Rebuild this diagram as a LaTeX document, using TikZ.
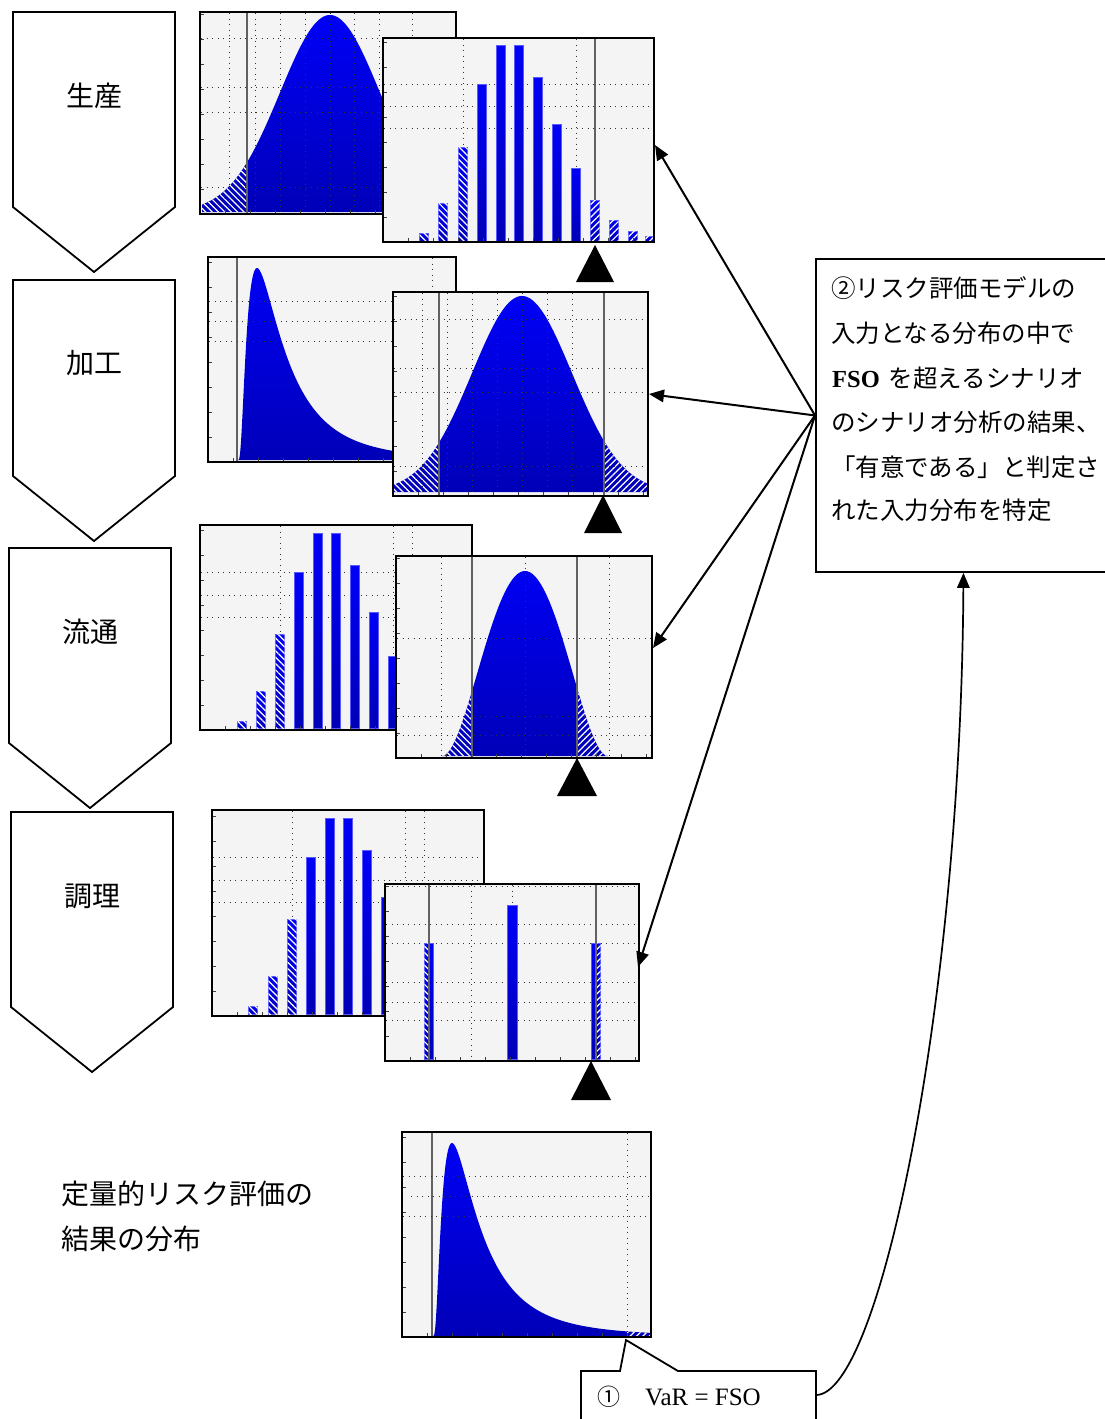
\documentclass[tikz,border=0pt]{standalone}
\usepackage{fontspec}
\newfontfamily\jp{Noto Sans CJK JP}
\newfontfamily\lat{Liberation Serif}
\usetikzlibrary{arrows.meta,patterns.meta}
\definecolor{bgc}{HTML}{F4F4F4}
\definecolor{bluetop}{rgb}{0,0,0.97}
\definecolor{bluebot}{rgb}{0,0,0.72}
\definecolor{baredgec}{rgb}{0.35,0.35,1}
\definecolor{thr}{gray}{0.38}
\tikzset{
  chartbg/.style={fill=bgc},
  chartframe/.style={draw=black,line width=2.2pt},
  griddot/.style={line width=1pt,dash pattern=on 1pt off 4.5pt,black!80},
  thrline/.style={line width=1.1pt,thr},
  tickmark/.style={line width=0.8pt,black!75},
  curvefill/.style={top color=bluetop,bottom color=bluebot},
  baredge/.style={draw=baredgec,line width=0.6pt},
  hatchL/.style={pattern={Lines[angle=-45,distance=4.5pt,line width=1.2pt]},pattern color=white},
  hatchR/.style={pattern={Lines[angle=45,distance=4.5pt,line width=1.2pt]},pattern color=white},
  marker/.style={fill=black},
  stage/.style={draw=black,line width=1.8pt,fill=white},
  lbl/.style={font=\jp\fontsize{28}{28}\selectfont,inner sep=0pt},
  boxtxt/.style={font=\jp\fontsize{24.5}{24.5}\selectfont,inner sep=0pt,anchor=west},
  boxline/.style={draw=black,line width=1.9pt},
  arr/.style={line width=2pt,-{Triangle[length=15pt,width=12.5pt]}},
}
\newcommand{\cbg}[4]{\fill[chartbg] (#1,#2) rectangle (#3,#4);}
\newcommand{\cfr}[4]{\draw[chartframe] (#1,#2) rectangle (#3,#4);}
\newcommand{\cticks}[4]{\begin{scope}\clip (#1,#2) rectangle (#3,#4);
  \foreach \k in {1,...,10}{\draw[tickmark] (#1,{#4-\k*25}) -- ++(4,0);
  \draw[tickmark] ({#1+\k*25},#4) -- ++(0,-4);}\end{scope}}
\newcommand{\cbar}[4]{\shadedraw[curvefill,baredge] ({#1-#4},#2) rectangle ({#1+#4},#3);}
\newcommand{\cbarh}[5]{\shadedraw[curvefill,baredge] ({#1-#4},#2) rectangle ({#1+#4},#3);
  \fill[#5] ({#1-#4},#2) rectangle ({#1+#4},#3);}
\begin{document}
\begin{tikzpicture}[x=1pt,y=-1pt,
  declare function={nrm(\a,\m,\s)=exp(-0.5*((\a-\m)/\s)*((\a-\m)/\s));
                    bmp(\a,\m,\w)=(1-((\a-\m)/\w)*((\a-\m)/\w))*(1-((\a-\m)/\w)*((\a-\m)/\w));
                    lgn(\u)=(19/\u)*exp(0.361-(ln(\u)-3.667)*(ln(\u)-3.667)/1.445);}]
\fill[white] (0,0) rectangle (1104,1419);
\useasboundingbox (0,0) rectangle (1104,1419);

% ---------- stage arrows ----------
\draw[stage] (13,12) -- (175,12) -- (175,207) -- (94,272) -- (13,207) -- cycle;
\draw[stage] (13,280) -- (175,280) -- (175,476) -- (94,541) -- (13,476) -- cycle;
\draw[stage] (9,548) -- (171,548) -- (171,743) -- (90,808) -- (9,743) -- cycle;
\draw[stage] (11,812) -- (173,812) -- (173,1007) -- (92,1072) -- (11,1007) -- cycle;
\node[lbl] (s1) at (94,96) {生産};
\node[lbl] (s2) at (94,363) {加工};
\node[lbl] (s3) at (90,632) {流通};
\node[lbl] (s4) at (92,896) {調理};

% ---------- row 1 back (normal) ----------
\cbg{200}{12}{456}{214}
\begin{scope}
  \clip plot[domain=202:456,samples=120] (\x,{212-197*nrm(\x,330,50)}) -- (456,212) -- (202,212) -- cycle;
  \shade[curvefill] (200,14) rectangle (456,212);
  \fill[hatchL] (200,14) rectangle (247,212);
\end{scope}
\foreach \gx in {229,255,280,305,330,354,379,412} {\draw[griddot] (\gx,13) -- (\gx,213);}
\foreach \gy in {38,87,112,187} {\draw[griddot] (201,\gy) -- (455,\gy);}
\draw[thrline] (247,13) -- (247,213);
\cticks{200}{12}{456}{214}
\cfr{200}{12}{456}{214}

% ---------- row 1 front (bars) ----------
\cbg{383}{38}{654}{242}
\foreach \gx in {463,576} {\draw[griddot] (\gx,39) -- (\gx,241);}
\foreach \gy in {84,106,128} {\draw[griddot] (384,\gy) -- (653,\gy);}
\draw[thrline] (595,39) -- (595,241);
\foreach \bx/\bt in {424/233,443/203,463/147} {\cbarh{\bx}{\bt}{241}{4.5}{hatchL}}
\foreach \bx/\bt in {482/84,501/45,519/45,538/77,557/124,576/168} {\cbar{\bx}{\bt}{241}{4.5}}
\foreach \bx/\bt in {595/200,614/220,633/231,650/236} {\cbarh{\bx}{\bt}{241}{4.5}{hatchR}}
\cticks{383}{38}{654}{242}
\cfr{383}{38}{654}{242}
\fill[marker] (595,245) -- (614,282) -- (576,282) -- cycle;

% ---------- row 2 back (lognormal) ----------
\cbg{208}{257}{456}{462}
\begin{scope}
  \clip plot[domain=238.3:456,samples=250] (\x,{460-192*lgn(\x-238)}) -- (456,460) -- (238.3,460) -- cycle;
  \shade[curvefill] (208,259) rectangle (456,461);
\end{scope}
\draw[thrline] (237,258) -- (237,461);
\draw[griddot] (432,258) -- (432,461);
\foreach \gy in {301,321,341} {\draw[griddot] (209,\gy) -- (455,\gy);}
\cticks{208}{257}{456}{462}
\cfr{208}{257}{456}{462}

% ---------- row 2 front (normal) ----------
\cbg{393}{292}{648}{496}
\begin{scope}
  \clip plot[domain=394:647,samples=120] (\x,{492-196*nrm(\x,522,50)}) -- (647,492) -- (394,492) -- cycle;
  \shade[curvefill] (393,294) rectangle (648,492);
  \fill[hatchL] (393,294) rectangle (439,492);
  \fill[hatchR] (604,294) rectangle (648,492);
\end{scope}
\foreach \gx in {422,447,472,497,522,547,572} {\draw[griddot] (\gx,293) -- (\gx,495);}
\foreach \gy in {319,368,392,466} {\draw[griddot] (394,\gy) -- (647,\gy);}
\draw[thrline] (439,293) -- (439,495);
\draw[thrline] (604,293) -- (604,495);
\cticks{393}{292}{648}{496}
\cfr{393}{292}{648}{496}
\fill[marker] (603,495) -- (622,533) -- (584,533) -- cycle;

% ---------- row 3 back (bars) ----------
\cbg{200}{525}{472}{730}
\foreach \gx in {280,393,412} {\draw[griddot] (\gx,526) -- (\gx,729);}
\foreach \gy in {572,595,617} {\draw[griddot] (201,\gy) -- (471,\gy);}
\foreach \bx/\bt in {242/721,261/691,280/634} {\cbarh{\bx}{\bt}{728}{4.5}{hatchL}}
\foreach \bx/\bt in {299/572,318/533,336/533,355/565,374/612,393/656} {\cbar{\bx}{\bt}{728}{4.5}}
\cticks{200}{525}{472}{730}
\cfr{200}{525}{472}{730}

% ---------- row 3 front (narrow bump) ----------
\cbg{396}{556}{652}{758}
\begin{scope}
  \clip plot[domain=442:608,samples=120] (\x,{756-185*bmp(\x,525,83)}) -- cycle;
  \shade[curvefill] (396,558) rectangle (652,757);
  \fill[hatchL] (396,558) rectangle (472,757);
  \fill[hatchR] (577,558) rectangle (652,757);
\end{scope}
\foreach \gx in {441,525,609} {\draw[griddot] (\gx,557) -- (\gx,757);}
\foreach \gy in {638,716,735} {\draw[griddot] (397,\gy) -- (651,\gy);}
\draw[thrline] (472,557) -- (472,757);
\draw[thrline] (577,557) -- (577,757);
\cticks{396}{556}{652}{758}
\cfr{396}{556}{652}{758}
\fill[marker] (577,758) -- (597,796) -- (557,796) -- cycle;

% ---------- row 4 back (bars) ----------
\cbg{212}{810}{484}{1016}
\foreach \gx in {292,405,424} {\draw[griddot] (\gx,811) -- (\gx,1015);}
\foreach \gy in {857,880,902} {\draw[griddot] (213,\gy) -- (483,\gy);}
\foreach \bx/\bt in {253/1006,273/976,292/919} {\cbarh{\bx}{\bt}{1014}{4.5}{hatchL}}
\foreach \bx/\bt in {311/857,330/818,348/818,367/850,386/897} {\cbar{\bx}{\bt}{1014}{4.5}}
\cticks{212}{810}{484}{1016}
\cfr{212}{810}{484}{1016}

% ---------- row 4 front (three bars) ----------
\cbg{385}{884}{639}{1061}
\draw[griddot] (471,885) -- (471,1060);
\draw[griddot] (512,885) -- (512,905);
\foreach \gy in {886,924,943,982,1002,1020} {\draw[griddot] (386,\gy) -- (638,\gy);}
\cbar{429}{943}{1059}{4.6}
\cbar{512}{905}{1059}{4.8}
\cbar{596}{943}{1059}{4.6}
\fill[hatchL] (424.4,943) rectangle (429,1059);
\fill[hatchR] (596,943) rectangle (600.6,1059);
\draw[thrline] (429,885) -- (429,1060);
\draw[thrline] (596,885) -- (596,1060);
\cticks{385}{884}{639}{1061}
\cfr{385}{884}{639}{1061}
\fill[marker] (591,1061) -- (611,1100) -- (571,1100) -- cycle;

% ---------- result distribution ----------
\cbg{402}{1132}{651}{1337}
\begin{scope}
  \clip plot[domain=433.3:650,samples=250] (\x,{1336-193*lgn(\x-433)}) -- (650,1336) -- (433.3,1336) -- cycle;
  \shade[curvefill] (402,1134) rectangle (651,1336);
  \fill[hatchR] (627,1134) rectangle (651,1336);
\end{scope}
\draw[thrline] (432,1133) -- (432,1336);
\draw[griddot] (627,1133) -- (627,1336);
\draw[griddot] (403,1176) -- (650,1176);
\draw[griddot] (411,1196) -- (650,1196);
\draw[griddot] (403,1216) -- (650,1216);
\cticks{402}{1132}{651}{1337}
\cfr{402}{1132}{651}{1337}

\node[lbl,anchor=west] (q1) at (61,1194) {定量的リスク評価の};
\node[lbl,anchor=west] (q2) at (61,1239) {結果の分布};

% ---------- callout 1 ----------
\draw[line width=1.8pt] (581,1425) -- (581,1371) -- (620,1371) -- (626,1340) -- (678,1371) -- (816,1371) -- (816,1425);
\coordinate (callR) at (816,1395);
\node[font=\jp\fontsize{23}{23}\selectfont,inner sep=0pt] (c1) at (609,1397) {①};
\node[font=\lat\fontsize{25}{25}\selectfont,inner sep=0pt,anchor=base west] (c2) at (645,1405) {VaR = FSO};

% ---------- box 2 ----------
\node[boxline,minimum width=295pt,minimum height=313pt,inner sep=0pt,anchor=north west] (fsobox) at (815,258) {};
\node[boxtxt] (b1) at (831,288) {②リスク評価モデルの};
\node[boxtxt] (b2) at (831,333) {入力となる分布の中で};
\node[boxtxt] (b3) at (832,378) {{\lat\bfseries FSO}\hspace{9pt}を超えるシナリオ};
\node[boxtxt] (b4) at (831,422) {のシナリオ分析の結果、};
\node[boxtxt] (b5) at (831,467) {「有意である」と判定さ};
\node[boxtxt] (b6) at (831,510) {れた入力分布を特定};

% ---------- connectors ----------
\coordinate (a1) at (655,145);
\coordinate (a2) at (649,394);
\coordinate (a3) at (653,648);
\coordinate (a4) at (638,967);
\draw[arr] (fsobox.west) -- (a1);
\draw[arr] (fsobox.west) -- (a2);
\draw[arr] (fsobox.west) -- (a3);
\draw[arr] (fsobox.west) -- (a4);
\draw[arr,line width=1.7pt] (callR) .. controls (880,1395) and (961,1000) .. (fsobox.south);
\end{tikzpicture}
\end{document}
